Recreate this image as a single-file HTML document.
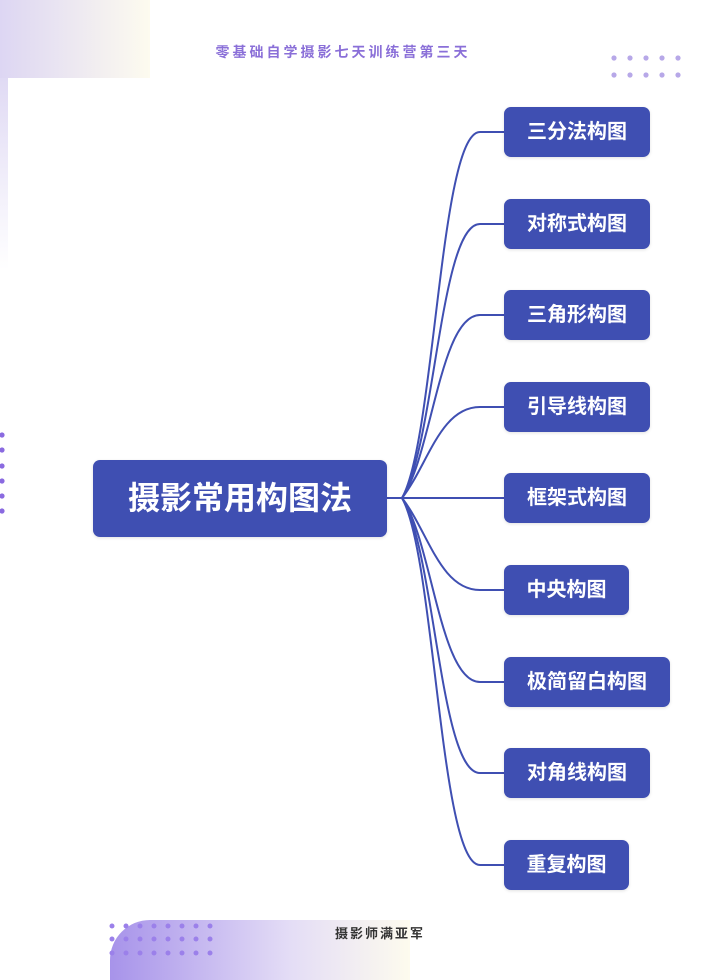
<!DOCTYPE html>
<html><head><meta charset="utf-8"><style>
body{margin:0;width:720px;height:960px;overflow:hidden;background:#fff;position:relative;font-family:"Liberation Sans","Noto Sans CJK SC",sans-serif}
.n{position:absolute;background:#3f4fb2;color:#fff;border-radius:7px;height:50px;line-height:50px;text-align:center;font-size:20px;font-weight:bold;box-shadow:0 1px 3px rgba(0,0,0,.12)}
</style></head><body>
<div style="position:absolute;left:0;top:0;width:150px;height:78px;background:linear-gradient(90deg,#ddd6f3,#fdfbef)"></div>
<div style="position:absolute;left:0;top:78px;width:8px;height:192px;background:linear-gradient(180deg,#e0daf4,#fff)"></div>
<div style="position:absolute;left:0;top:42px;width:686px;text-align:center;font-size:14px;letter-spacing:3px;color:#8a6fd8;font-weight:bold">零基础自学摄影七天训练营第三天</div>
<div style="position:absolute;left:110px;top:920px;width:300px;height:60px;border-radius:40px 0 0 0;background:linear-gradient(90deg,#a793ea,#e4ddf6 60%,#fdfbee)"></div>
<div style="position:absolute;left:0;top:923px;width:760px;text-align:center;font-size:13px;letter-spacing:2px;color:#333;font-weight:bold">摄影师满亚军</div>
<svg width="720" height="960" style="position:absolute;left:0;top:0">
<g fill="#b7a8e8">
<circle cx="614" cy="58" r="2.6"/><circle cx="630" cy="58" r="2.6"/><circle cx="646" cy="58" r="2.6"/><circle cx="662" cy="58" r="2.6"/><circle cx="678" cy="58" r="2.6"/>
<circle cx="614" cy="75" r="2.6"/><circle cx="630" cy="75" r="2.6"/><circle cx="646" cy="75" r="2.6"/><circle cx="662" cy="75" r="2.6"/><circle cx="678" cy="75" r="2.6"/>
</g>
<g fill="#8a6ae0">
<circle cx="2" cy="435" r="2.6"/><circle cx="2" cy="450" r="2.6"/><circle cx="2" cy="466" r="2.6"/><circle cx="2" cy="481" r="2.6"/><circle cx="2" cy="496" r="2.6"/><circle cx="2" cy="511" r="2.6"/>
</g>
<g fill="#9b80ea">
<circle cx="112" cy="926" r="2.5"/><circle cx="126" cy="926" r="2.5"/><circle cx="140" cy="926" r="2.5"/><circle cx="154" cy="926" r="2.5"/><circle cx="168" cy="926" r="2.5"/><circle cx="182" cy="926" r="2.5"/><circle cx="196" cy="926" r="2.5"/><circle cx="210" cy="926" r="2.5"/>
<circle cx="112" cy="939" r="2.5"/><circle cx="126" cy="939" r="2.5"/><circle cx="140" cy="939" r="2.5"/><circle cx="154" cy="939" r="2.5"/><circle cx="168" cy="939" r="2.5"/><circle cx="182" cy="939" r="2.5"/><circle cx="196" cy="939" r="2.5"/><circle cx="210" cy="939" r="2.5"/>
<circle cx="112" cy="953" r="2.5"/><circle cx="126" cy="953" r="2.5"/><circle cx="140" cy="953" r="2.5"/><circle cx="154" cy="953" r="2.5"/><circle cx="168" cy="953" r="2.5"/><circle cx="182" cy="953" r="2.5"/><circle cx="196" cy="953" r="2.5"/><circle cx="210" cy="953" r="2.5"/>
</g>
<g fill="none" stroke="#3f4fb2" stroke-width="2">
<path d="M387 498 H402"/>
<path d="M402 498 C435 440 440 132 480 132 H504"/>
<path d="M402 498 C435 445 440 224 480 224 H504"/>
<path d="M402 498 C432 455 440 315 480 315 H504"/>
<path d="M402 498 C428 465 440 407 480 407 H504"/>
<path d="M402 498 H504"/>
<path d="M402 498 C428 531 440 590 480 590 H504"/>
<path d="M402 498 C432 541 440 682 480 682 H504"/>
<path d="M402 498 C435 551 440 773 480 773 H504"/>
<path d="M402 498 C435 556 440 865 480 865 H504"/>
</g>
</svg>
<div class="n" style="left:93px;top:460px;width:294px;height:77px;line-height:77px;font-size:32px">摄影常用构图法</div>
<div class="n" style="left:504px;top:107px;width:146px">三分法构图</div>
<div class="n" style="left:504px;top:199px;width:146px">对称式构图</div>
<div class="n" style="left:504px;top:290px;width:146px">三角形构图</div>
<div class="n" style="left:504px;top:382px;width:146px">引导线构图</div>
<div class="n" style="left:504px;top:473px;width:146px">框架式构图</div>
<div class="n" style="left:504px;top:565px;width:125px">中央构图</div>
<div class="n" style="left:504px;top:657px;width:166px">极简留白构图</div>
<div class="n" style="left:504px;top:748px;width:146px">对角线构图</div>
<div class="n" style="left:504px;top:840px;width:125px">重复构图</div>
</body></html>
